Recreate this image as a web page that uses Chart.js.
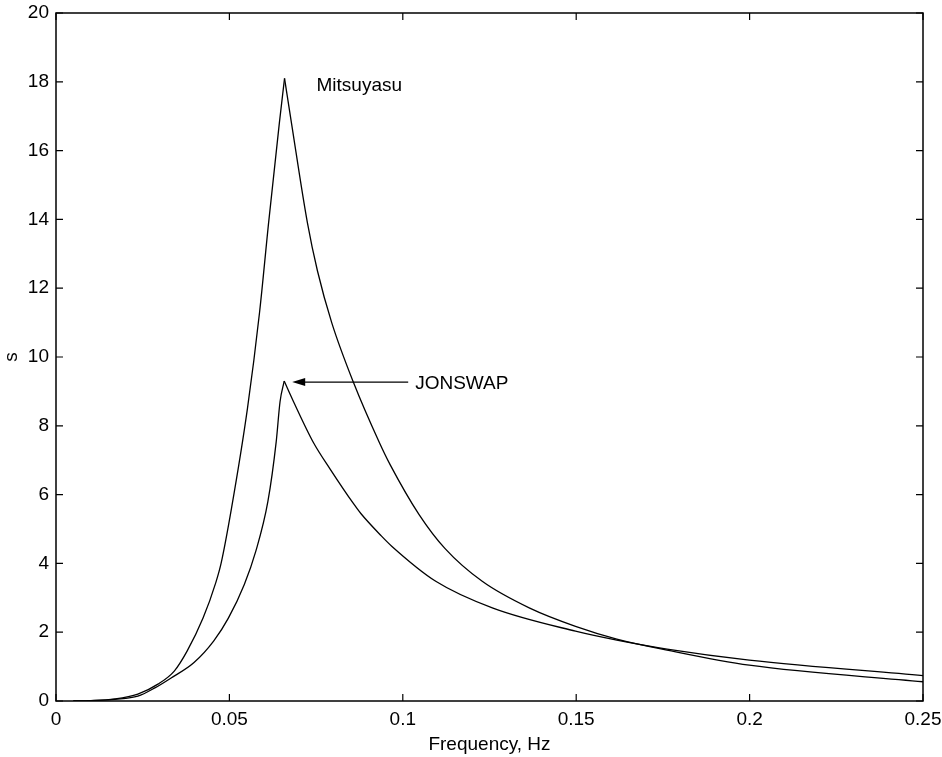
<!DOCTYPE html>
<html>
<head>
<meta charset="utf-8">
<script src="https://cdn.jsdelivr.net/npm/chart.js@4/dist/chart.umd.min.js"></script>
<style>
  html, body { margin: 0; padding: 0; background: #fff; }
  #wrap { width: 942px; height: 757px; }
</style>
</head>
<body>
<div id="wrap"><canvas id="c" width="942" height="757"></canvas></div>
<script>
// ---- data ----
const freqMitsuyasu = [0.005, 0.010, 0.017, 0.0236, 0.0294, 0.0341, 0.0378, 0.0424, 0.0461, 0.0476, 0.0506, 0.0552, 0.0587, 0.0613, 0.0644, 0.0659, 0.0679, 0.0725, 0.0754, 0.0795, 0.0857, 0.0933, 0.0963, 0.1047, 0.1122, 0.1229, 0.1366, 0.1498, 0.1617, 0.1762, 0.1999, 0.25];
const sMitsuyasu    = [0.0, 0.01, 0.06, 0.20, 0.49, 0.87, 1.45, 2.41, 3.45, 4.0, 5.6, 8.5, 11.3, 13.9, 16.8, 18.1, 16.8, 13.9, 12.5, 11.0, 9.28, 7.5, 6.88, 5.42, 4.43, 3.48, 2.70, 2.17, 1.80, 1.48, 1.04, 0.56];

const freqJonswap = [0.005, 0.010, 0.017, 0.0236, 0.0285, 0.0332, 0.0398, 0.0455, 0.0497, 0.0543, 0.0576, 0.0611, 0.0635, 0.0646, 0.0658, 0.0685, 0.0743, 0.0790, 0.0859, 0.0879, 0.0938, 0.0968, 0.1095, 0.1260, 0.1498, 0.1617, 0.1762, 0.1999, 0.25];
const sJonswap    = [0.0, 0.01, 0.05, 0.14, 0.38, 0.67, 1.12, 1.75, 2.41, 3.39, 4.35, 5.80, 7.54, 8.70, 9.30, 8.70, 7.50, 6.75, 5.72, 5.45, 4.80, 4.50, 3.48, 2.70, 2.03, 1.77, 1.51, 1.19, 0.74];

const xTickValues = [0, 0.05, 0.1, 0.15, 0.2, 0.25];
const xTickLabels = ['0', '0.05', '0.1', '0.15', '0.2', '0.25'];
const yTickValues = [0, 2, 4, 6, 8, 10, 12, 14, 16, 18, 20];

const labelMitsuyasu = 'Mitsuyasu';
const labelJonswap = 'JONSWAP';
const xTitle = 'Frequency, Hz';
const yTitle = 's';

const FONT = '"Liberation Sans", Arial, Helvetica, sans-serif';

function toPoints(xs, ys) { return xs.map((v, i) => ({ x: v, y: ys[i] })); }
// split a series at its peak so each branch is smoothed separately and the peak stays a cusp
function branches(xs, ys) {
  const i = ys.indexOf(Math.max(...ys));
  return [toPoints(xs.slice(0, i + 1), ys.slice(0, i + 1)), toPoints(xs.slice(i), ys.slice(i))];
}

const frameTicks = {
  id: 'frameTicks',
  afterDatasetsDraw(chart) {
    const { ctx, chartArea: a, scales: { x, y } } = chart;
    ctx.save();
    ctx.strokeStyle = '#000';
    ctx.lineWidth = 1.5;
    ctx.strokeRect(a.left, a.top, a.right - a.left, a.bottom - a.top);
    ctx.lineWidth = 1.2;
    const L = 7;
    ctx.beginPath();
    xTickValues.forEach(v => {
      const px = x.getPixelForValue(v);
      ctx.moveTo(px, a.bottom); ctx.lineTo(px, a.bottom - L);
      ctx.moveTo(px, a.top); ctx.lineTo(px, a.top + L);
    });
    yTickValues.forEach(v => {
      const py = y.getPixelForValue(v);
      ctx.moveTo(a.left, py); ctx.lineTo(a.left + L, py);
      ctx.moveTo(a.right, py); ctx.lineTo(a.right - L, py);
    });
    ctx.stroke();

    // annotations anchored on the series peaks
    ctx.fillStyle = '#000';
    ctx.font = '19px ' + FONT;
    ctx.textBaseline = 'middle';
    ctx.textAlign = 'left';
    const im = sMitsuyasu.indexOf(Math.max(...sMitsuyasu));
    const mx = x.getPixelForValue(freqMitsuyasu[im]);
    const my = y.getPixelForValue(sMitsuyasu[im]);
    ctx.fillText(labelMitsuyasu, mx + 32, my + 7);

    const ij = sJonswap.indexOf(Math.max(...sJonswap));
    const jx = x.getPixelForValue(freqJonswap[ij]);
    const jy = y.getPixelForValue(sJonswap[ij]);
    const tipX = jx + 8, tipY = jy + 1;
    ctx.lineWidth = 1.2;
    ctx.beginPath();
    ctx.moveTo(tipX + 10, tipY);
    ctx.lineTo(jx + 124, tipY);
    ctx.stroke();
    ctx.beginPath();
    ctx.moveTo(tipX, tipY);
    ctx.lineTo(tipX + 13, tipY - 4);
    ctx.lineTo(tipX + 13, tipY + 4);
    ctx.closePath();
    ctx.fill();
    ctx.fillText(labelJonswap, jx + 131, tipY + 2);
    ctx.restore();
  }
};

const [mUp, mDown] = branches(freqMitsuyasu, sMitsuyasu);
const [jUp, jDown] = branches(freqJonswap, sJonswap);
const lineStyle = { borderColor: '#000', borderWidth: 1.3, pointRadius: 0, cubicInterpolationMode: 'monotone', fill: false };

new Chart(document.getElementById('c'), {
  type: 'line',
  data: {
    datasets: [
      Object.assign({ label: labelMitsuyasu, data: mUp }, lineStyle),
      Object.assign({ label: labelMitsuyasu, data: mDown }, lineStyle),
      Object.assign({ label: labelJonswap, data: jUp }, lineStyle),
      Object.assign({ label: labelJonswap, data: jDown }, lineStyle)
    ]
  },
  options: {
    responsive: false,
    animation: false,
    events: [],
    layout: { padding: { left: 0, top: 13, right: 19, bottom: 0 } },
    plugins: { legend: { display: false }, tooltip: { enabled: false } },
    scales: {
      x: {
        type: 'linear', min: 0, max: 0.25,
        afterBuildTicks: s => { s.ticks = xTickValues.map(v => ({ value: v })); },
        afterFit: s => { s.height = 56; s.paddingLeft = 0; s.paddingRight = 0; },
        grid: { display: false, drawTicks: false },
        border: { display: false },
        ticks: { color: '#000', padding: 7, maxRotation: 0, font: { family: FONT, size: 19 },
                 callback: (v) => xTickLabels[xTickValues.indexOf(v)] },
        title: { display: true, text: xTitle, color: '#000', font: { family: FONT, size: 19 }, padding: { top: 0, bottom: 1 } }
      },
      y: {
        type: 'linear', min: 0, max: 20,
        afterBuildTicks: s => { s.ticks = yTickValues.map(v => ({ value: v })); },
        afterFit: s => { s.width = 56; s.paddingTop = 0; s.paddingBottom = 0; },
        grid: { display: false, drawTicks: false },
        border: { display: false },
        ticks: { color: '#000', padding: 7, font: { family: FONT, size: 19 } },
        title: { display: true, text: yTitle, color: '#000', font: { family: FONT, size: 19 }, padding: { top: 0, bottom: 0 } }
      }
    }
  },
  plugins: [frameTicks]
});
</script>
</body>
</html>
